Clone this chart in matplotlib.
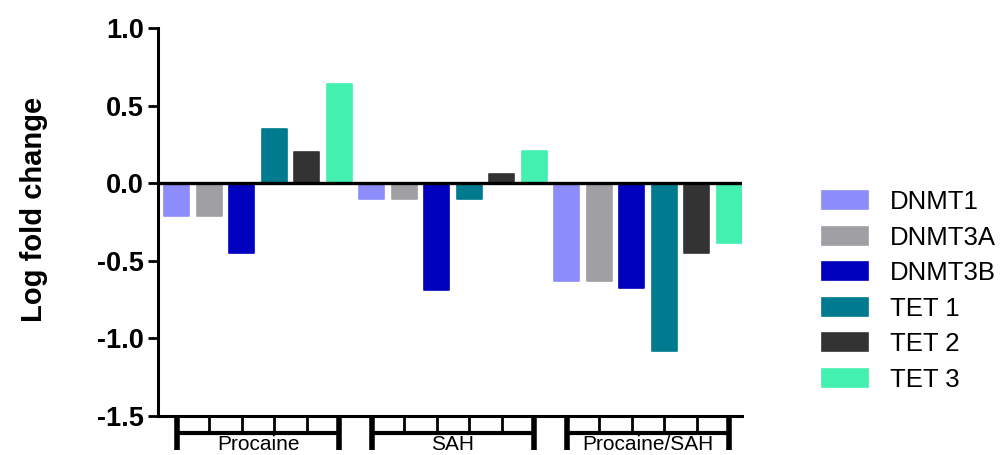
import numpy as np
import matplotlib
matplotlib.use("Agg")
import matplotlib.pyplot as plt

plt.rcParams['font.family'] = ['Liberation Sans', 'DejaVu Sans']

# Treatment groups and log fold change per gene
groups = ["Procaine", "SAH", "Procaine/SAH"]
genes = ["DNMT1", "DNMT3A", "DNMT3B", "TET 1", "TET 2", "TET 3"]
dnmt1 = [-0.21, -0.10, -0.63]
dnmt3a = [-0.21, -0.10, -0.63]
dnmt3b = [-0.45, -0.69, -0.675]
tet1 = [0.35, -0.10, -1.08]
tet2 = [0.20, 0.06, -0.45]
tet3 = [0.64, 0.21, -0.385]
yticks = [1.0, 0.5, 0.0, -0.5, -1.0, -1.5]

values = [dnmt1, dnmt3a, dnmt3b, tet1, tet2, tet3]
colors = ["#8c8cfa", "#a0a0a4", "#0000bf", "#007a8e", "#333333", "#44f0b0"]

fig = plt.figure(figsize=(10, 4.55), dpi=100)
ax = fig.add_axes([0.158, 0.0857, 0.584, 0.8527])

n = len(genes)
bar_w = 0.77
handles = []
for k, (vals, col) in enumerate(zip(values, colors)):
    xs = [g * n + k for g in range(len(groups))]
    b = ax.bar(xs, vals, width=bar_w, color=col, edgecolor=col,
               linewidth=1.2, joinstyle='round', label=genes[k], zorder=2)
    handles.append(b)

ax.set_xlim(-0.585, len(groups) * n - 1 + 0.4)
ax.set_ylim(-1.5, 1.0)
ax.set_yticks(yticks)
ax.set_yticklabels([f"{t:.1f}" for t in yticks], fontsize=19.5, fontweight='bold')
ax.tick_params(axis='y', length=7, width=2, pad=3)
ax.set_xticks([])

for side in ['top', 'right']:
    ax.spines[side].set_visible(False)
ax.spines['left'].set_linewidth(2.2)
ax.spines['bottom'].set_linewidth(2.2)
ax.axhline(0, color='black', lw=2.4, zorder=3)

fig.text(0.034, 0.5407, "Log fold change", rotation=90, ha='center', va='center',
         fontsize=21, fontweight='bold')

# Group brackets under the x axis
y_axis = -1.5
y_bar = -1.61
y_end = -1.72
for g, name in enumerate(groups):
    x0 = g * n
    x1 = g * n + n - 1
    ax.plot([x0, x1], [y_bar, y_bar], color='black', lw=3, clip_on=False,
            solid_capstyle='butt')
    for x in (x0, x1):
        ax.plot([x, x], [y_axis, y_end], color='black', lw=4, clip_on=False,
                solid_capstyle='butt')
    for x in range(x0 + 1, x1):
        ax.plot([x, x], [y_axis, y_bar], color='black', lw=2, clip_on=False,
                solid_capstyle='butt')
    ax.text((x0 + x1) / 2, -1.685, name, ha='center', va='center',
            fontsize=15, clip_on=False)

leg = ax.legend(handles=handles, loc='upper left',
                bbox_to_anchor=(0.822, 0.582), bbox_transform=fig.transFigure,
                frameon=False, fontsize=18.5, handlelength=1.8, handleheight=0.7,
                labelspacing=0.45, handletextpad=0.85, borderpad=0, borderaxespad=0)

fig.savefig("out.png", dpi=100)
